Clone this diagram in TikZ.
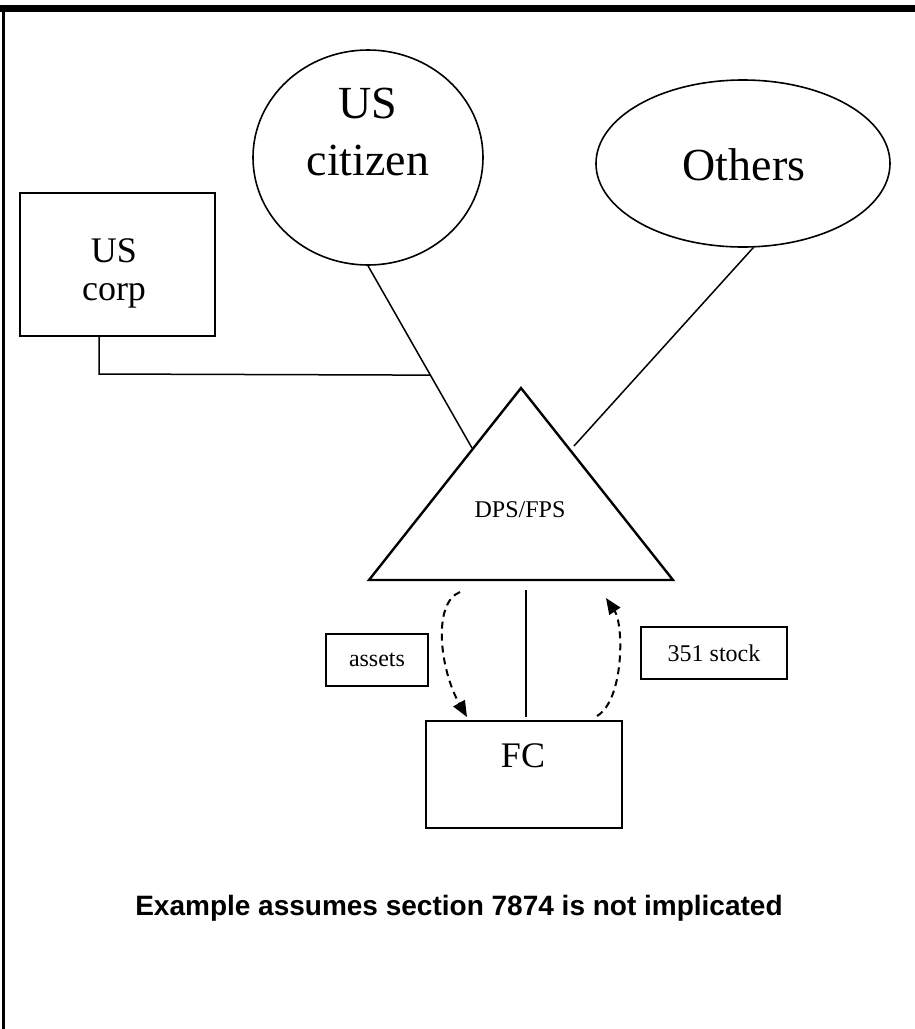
\documentclass[tikz,border=0pt]{standalone}
\usepackage{fontspec}
\setmainfont{Liberation Serif}
\newfontfamily\arialfont{Liberation Sans}
\usetikzlibrary{arrows.meta,calc,shapes.geometric}
\begin{document}
\begin{tikzpicture}[x=1pt,y=-1pt,
  line/.style={line width=1.5pt},
  boxnode/.style={draw,line width=2pt,inner sep=0pt},
  ell/.style={draw,ellipse,line width=1.6pt,inner sep=0pt},
  flow/.style={line width=2pt,dash pattern=on 7pt off 5pt,-{Triangle[length=16pt,width=13pt]}},
  lbl/.style={inner sep=0pt,anchor=base},
  big/.style={font=\fontsize{46}{46}\selectfont},
  mid/.style={font=\fontsize{36}{36}\selectfont},
  small/.style={font=\fontsize{24}{24}\selectfont}
]
\useasboundingbox (0,0) rectangle (915,1029);
\fill[white] (0,0) rectangle (915,1029);
% frame
\coordinate (f1) at (3.5,1029);
\coordinate (f2) at (3.5,8.5);
\coordinate (f0) at (0,8.5);
\coordinate (f3) at (915,8.5);
\draw[line width=3pt] (f1) -- (f2);
\draw[line width=6.5pt] (f0) -- (f3);
% US citizen
\node[ell,minimum width=230pt,minimum height=215pt] (usc) at (368,157.5) {};
\node[lbl,big] (usct1) at (368,118) {US};
\node[lbl,big] (usct2) at (368,175) {citizen};
% Others
\node[ell,minimum width=294pt,minimum height=167pt] (oth) at (743,163.5) {};
\node[lbl,big] (otht) at (744,180) {Others};
% US corp
\node[boxnode,minimum width=195pt,minimum height=143pt] (corp) at (117.5,264.5) {};
\node[lbl,mid] (corpt1) at (114,262) {US};
\node[lbl,mid] (corpt2) at (114,300) {corp};
% triangle
\coordinate (tA) at (521,388);
\coordinate (tL) at (369,580);
\coordinate (tR) at (673,580);
\draw[line width=2.4pt,line join=miter] (tA) -- (tL) -- (tR) -- cycle;
\node[lbl,small] (dps) at (520,517) {DPS/FPS};
% connectors to triangle
\coordinate (uscEnd) at (472,448);
\draw[line] (usc.south) -- (uscEnd);
\coordinate (othEnd) at (574,446);
\draw[line] (oth.-83) -- (othEnd);
\coordinate (cj) at (99,374);
\draw[line] (corp.south -| cj) -- (cj) -- ($(usc.south)!0.6!(uscEnd)$);
% FC
\node[boxnode,line width=2.4pt,minimum width=196pt,minimum height=107pt] (fc) at (524,774.5) {};
\node[lbl,mid] (fct) at (523,767) {FC};
\coordinate (v1) at (526,590);
\coordinate (v2) at (526,717);
\draw[line] (v1) -- (v2);
% flows
\coordinate (a1s) at (460,592);
\coordinate (a1e) at (467,717);
\draw[flow] (a1s) .. controls (432,603) and (440,670) .. (a1e);
\coordinate (a2s) at (597,716);
\coordinate (a2e) at (606,598);
\draw[flow] (a2s) .. controls (624,700) and (624,625) .. (a2e);
% labels
\node[boxnode,line width=1.6pt,small,minimum width=102pt,minimum height=52pt] (assets) at (377,660) {assets};
\node[boxnode,line width=1.6pt,small,minimum width=146pt,minimum height=52pt] (stock) at (714,653) {351 stock};
% note
\node[lbl,font=\arialfont\bfseries\fontsize{28}{28}\selectfont] (note) at (459,915) {Example assumes section 7874 is not implicated};
\end{tikzpicture}
\end{document}
